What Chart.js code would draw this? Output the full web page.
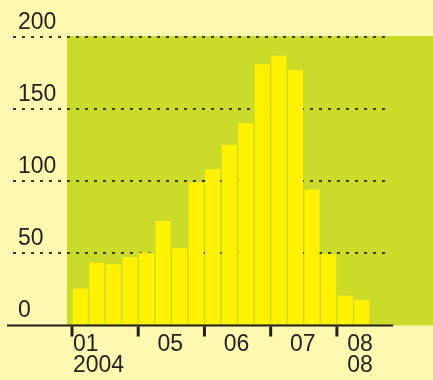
<!DOCTYPE html>
<html>
<head>
<meta charset="utf-8">
<script src="https://cdn.jsdelivr.net/npm/chart.js@4/dist/chart.umd.min.js"></script>
<style>
  html, body { margin: 0; padding: 0; background: #fff8b0; }
  #wrap { width: 433px; height: 380px; }
</style>
</head>
<body>
<div id="wrap"><canvas id="chart"></canvas></div>
<script>
// Data
const categories = ['2001', '2002', '2003', '2004',
                    '05-1', '05-2', '05-3', '05-4',
                    '06-1', '06-2', '06-3', '06-4',
                    '07-1', '07-2', '07-3', '07-4',
                    '08-1', '08-2'];
const values = [25, 43, 42, 47, 50, 72, 53, 99, 108, 125, 140, 181, 187, 177, 94, 49, 20, 17];
const yTicks = [0, 50, 100, 150, 200];
const groupLabels = [['01', '2004'], ['05'], ['06'], ['07'], ['08', '08']];
const groupStarts = [0, 4, 8, 12, 16];

const FONT = '"Liberation Sans", Arial, Helvetica, sans-serif';
const INK = '#231f20';

// background, dotted grid, base line, tick marks and group labels
const decor = {
    id: 'decor',
    beforeDraw(chart) {
        const { ctx, chartArea: a, scales: { y } } = chart;
        const top = y.getPixelForValue(yTicks[yTicks.length - 1]);
        ctx.save();
        ctx.fillStyle = '#fff8b0';
        ctx.fillRect(0, 0, chart.width, chart.height);
        ctx.fillStyle = '#cbdb2a';
        ctx.fillRect(a.left - 5, top - 1, chart.width, a.bottom - top + 2);
        ctx.restore();
    },
    beforeDatasetsDraw(chart) {
        const { ctx, chartArea: a, scales: { y } } = chart;
        ctx.save();
        ctx.setLineDash([3, 6]);
        ctx.lineWidth = 2;
        ctx.strokeStyle = '#3a3a30';
        yTicks.filter(v => v > 0).forEach(v => {
            const py = Math.round(y.getPixelForValue(v));
            ctx.beginPath();
            ctx.moveTo(13, py);
            ctx.lineTo(a.right + 20, py);
            ctx.stroke();
        });
        ctx.restore();
    },
    afterDatasetsDraw(chart) {
        const { ctx, chartArea: a, scales: { x } } = chart;
        const w = x.getPixelForValue(1) - x.getPixelForValue(0);
        const edge = i => x.getPixelForValue(i) - w / 2;
        ctx.save();
        ctx.fillStyle = INK;
        ctx.fillRect(7, a.bottom, a.right + 23 - 7, 2);
        groupStarts.forEach(s => ctx.fillRect(edge(s) - 1.5, a.bottom + 2, 3, 10));

        ctx.font = '23px ' + FONT;
        ctx.textBaseline = 'alphabetic';
        groupLabels.forEach((lines, g) => {
            const s = groupStarts[g];
            const e = g + 1 < groupStarts.length ? groupStarts[g + 1] : categories.length;
            let px;
            if (g === 0) { ctx.textAlign = 'left'; px = edge(s) + 1; }
            else if (g === groupLabels.length - 1) { ctx.textAlign = 'left'; px = x.getPixelForValue(s) + 2; }
            else { ctx.textAlign = 'center'; px = (edge(s) + edge(e)) / 2 - 1; }
            lines.forEach((t, i) => ctx.fillText(t, px, a.bottom + 26 + i * 21.5));
        });
        ctx.restore();
    }
};

new Chart(document.getElementById('chart'), {
    type: 'bar',
    data: {
        labels: categories,
        datasets: [{
            data: values,
            backgroundColor: '#fff200',
            borderWidth: 0,
            categoryPercentage: 1,
            barPercentage: 0.91
        }]
    },
    options: {
        responsive: true,
        maintainAspectRatio: false,
        animation: false,
        layout: { padding: { left: 18, right: 63, top: 37, bottom: 55.5 } },
        plugins: { legend: { display: false }, tooltip: { enabled: false } },
        scales: {
            x: { display: false },
            y: {
                min: 0,
                max: 200,
                afterFit: s => { s.width = 54; },
                grid: { display: false },
                border: { display: false },
                ticks: {
                    stepSize: 50,
                    autoSkip: false,
                    crossAlign: 'far',
                    labelOffset: -14,
                    color: INK,
                    font: { size: 23, family: FONT }
                }
            }
        }
    },
    plugins: [decor]
});
</script>
</body>
</html>
